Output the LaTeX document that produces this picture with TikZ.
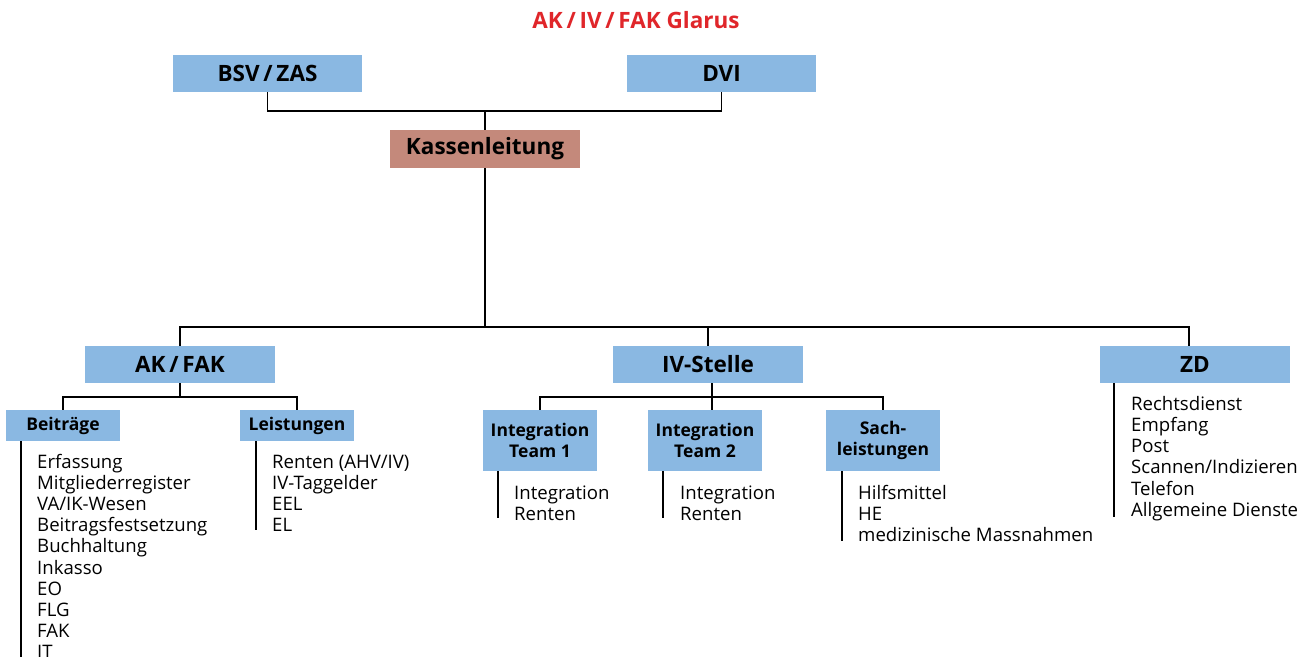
\documentclass[tikz,border=0pt]{standalone}
\usepackage{fontspec}
\setmainfont{Open Sans}
\definecolor{boxblue}{HTML}{8AB8E2}
\definecolor{boxbrown}{HTML}{C4897B}
\definecolor{titlered}{HTML}{E0262A}
\begin{document}
\begin{tikzpicture}[x=1pt,y=-1pt,
  box/.style={fill=boxblue, inner sep=0pt, text=black, font=\bfseries\fontsize{22.5}{26}\selectfont},
  bigbox/.style={box, minimum width=189pt, minimum height=37pt},
  smallbox/.style={box, font=\bfseries\fontsize{17.5}{21.5}\selectfont, minimum width=114pt, align=center},
  item/.style={inner sep=0pt, anchor=base west, text=black, font=\fontsize{18.6}{21}\selectfont},
  link/.style={line width=1.2pt},
  listline/.style={line width=2pt}]
\clip (0,0) rectangle (1303,656);
\fill[white] (0,0) rectangle (1303,656);
% title
\node[font=\bfseries\fontsize{22.5}{26}\selectfont, text=titlered] (title) at (636,20) {AK\,/\,IV\,/\,FAK Glarus};
% top level
\node[bigbox] (bsv) at (267.5,73.5) {BSV\,/\,ZAS};
\node[bigbox] (dvi) at (721.5,73.5) {DVI};
\node[bigbox, minimum width=190pt, minimum height=38pt, fill=boxbrown] (kl) at (485,149) {Kassenleitung};
\coordinate (j1) at (485,111);
\draw[link] (bsv.south) |- (j1) -| (dvi.south);
\draw[link] (j1) -- (kl.north);
% second level
\node[bigbox, minimum width=190pt] (ak) at (180,364.5) {AK\,/\,FAK};
\node[bigbox, minimum width=190pt] (iv) at (708,364.5) {IV-Stelle};
\node[bigbox, minimum width=190pt] (zd) at (1195,364.5) {ZD};
\coordinate (j2) at (485,327);
\draw[link] (kl.south) -- (j2);
\draw[link] (ak.north) |- (j2) -| ([xshift=-6pt]zd.north);
\draw[link] (iv.north) -- (iv.north |- j2);
% AK / FAK branch
\node[smallbox, minimum height=31pt] (bei) at (63,425.5) {Beiträge};
\node[smallbox, minimum height=31pt] (lei) at (297,425.5) {Leistungen};
\coordinate (j3) at (180,397);
\draw[link] (ak.south) -- (j3);
\draw[link] (bei.north) |- (j3) -| (lei.north);
% IV branch
\node[smallbox, minimum height=61pt] (t1) at (540,440.5) {Integration\\Team 1};
\node[smallbox, minimum height=61pt] (t2) at (705,440.5) {Integration\\Team 2};
\node[smallbox, minimum height=61pt] (sach) at (883,440.5) {Sach-\\leistungen};
\coordinate (j4) at (712,397);
\draw[link] ([xshift=4pt]iv.south) -- (j4);
\draw[link] (t1.north) |- (j4) -| (sach.north);
\draw[link] (j4) -- (j4 |- t2.north);
% list lines
\draw[listline] ([xshift=-42pt]bei.south) -- ++(0,230);
\draw[listline] ([xshift=-41pt]lei.south) -- ++(0,89);
\draw[listline] ([xshift=-42pt]t1.south) -- ++(0,47);
\draw[listline] ([xshift=-42pt]t2.south) -- ++(0,47);
\draw[listline] ([xshift=-41pt]sach.south) -- ++(0,70);
\draw[listline] ([xshift=-81pt]zd.south) -- ++(0,134);
% lists
\foreach \t [count=\i] in {Erfassung,Mitgliederregister,VA/IK-Wesen,Beitragsfestsetzung,Buchhaltung,Inkasso,EO,FLG,FAK,IT}
  \node[item] (bei\i) at (37,{468+21.2*(\i-1)}) {\t};
\foreach \t [count=\i] in {Renten (AHV/IV),IV-Taggelder,EEL,EL}
  \node[item] (lei\i) at (272,{468+21.2*(\i-1)}) {\t};
\foreach \t [count=\i] in {Integration,Renten}
  \node[item] (tea\i) at (514,{499+21.2*(\i-1)}) {\t};
\foreach \t [count=\i] in {Integration,Renten}
  \node[item] (teb\i) at (680,{499+21.2*(\i-1)}) {\t};
\foreach \t [count=\i] in {Hilfsmittel,HE,medizinische Massnahmen}
  \node[item] (sac\i) at (858,{499+21.3*(\i-1)}) {\t};
\foreach \t [count=\i] in {Rechtsdienst,Empfang,Post,Scannen/Indizieren,Telefon,Allgemeine Dienste}
  \node[item] (zdl\i) at (1131,{410+21.3*(\i-1)}) {\t};
\end{tikzpicture}
\end{document}
